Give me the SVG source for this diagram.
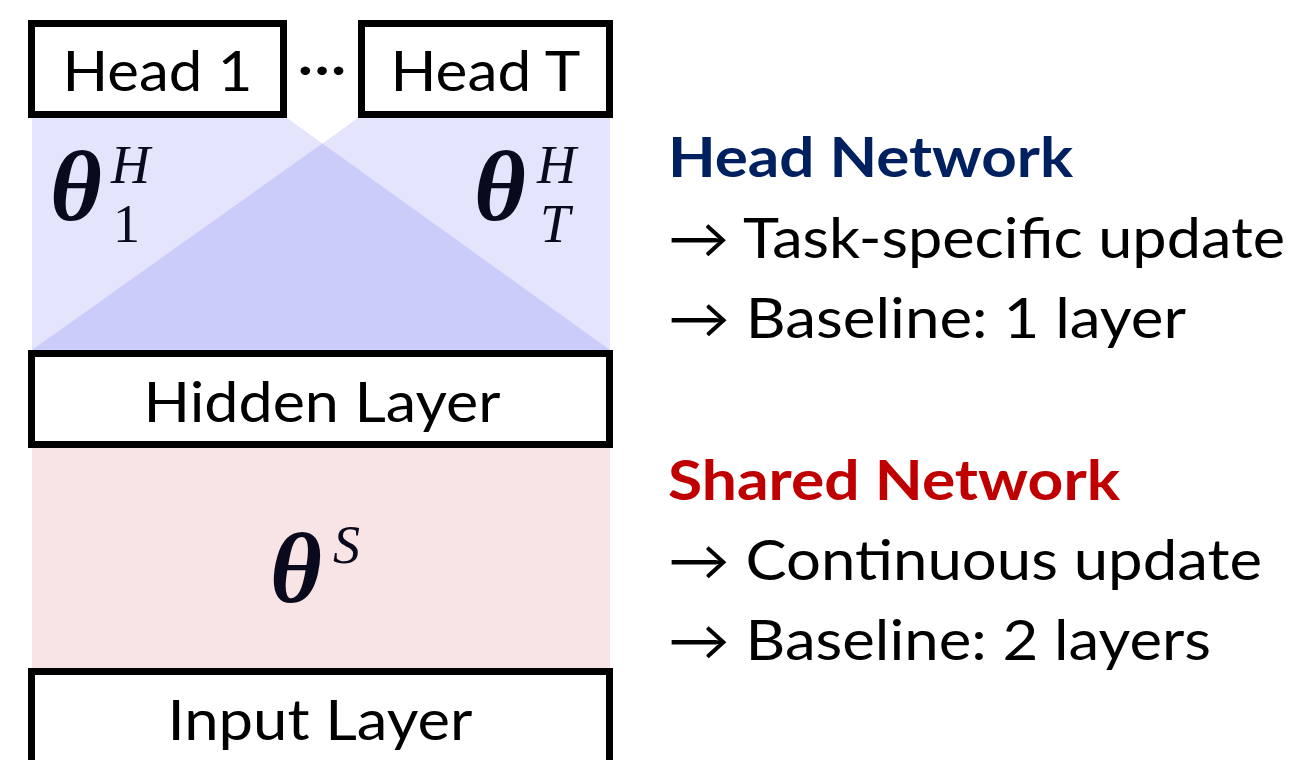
<svg xmlns="http://www.w3.org/2000/svg" width="1299" height="760" viewBox="0 0 1299 760">
<style>
.box{fill:#fff;stroke:#000;stroke-width:7}
.lbl{font-family:Lato,"Noto Sans",sans-serif;font-size:56px;fill:#000;text-anchor:middle}
.txt{font-family:Lato,"Noto Sans",sans-serif;font-size:56px;fill:#000}
.hd{font-family:Lato,"Noto Sans",sans-serif;font-size:56px;font-weight:bold}
.th{font-family:"Liberation Serif","DejaVu Serif",serif;font-weight:bold;font-style:italic;font-size:100px;fill:#0a0a1e}
.sc{font-family:"Liberation Serif","DejaVu Serif",serif;font-style:italic;font-size:54px;fill:#0a0a1e}
.sn{font-family:"Liberation Serif","DejaVu Serif",serif;font-size:54px;fill:#0a0a1e}
</style>
<g id="regions">
<polygon points="32,118 287,118 322.4,143.4 358,118 610,118 610,350 32,350" fill="#e4e4fc"/>
<polygon points="322.4,143.4 610,350 32,350" fill="#ccccfa"/>
<rect x="32" y="447" width="578" height="221" fill="#f8e4e4"/>
</g>
<g id="head1"><rect class="box" x="31.5" y="23.5" width="252" height="91"/><text class="lbl" x="157.5" y="91" textLength="190" lengthAdjust="spacingAndGlyphs">Head 1</text></g>
<g id="dots"><text class="txt" x="297" y="88" textLength="50" lengthAdjust="spacingAndGlyphs">···</text></g>
<g id="headT"><rect class="box" x="361.5" y="23.5" width="248" height="91"/><text class="lbl" x="485.5" y="91" textLength="190" lengthAdjust="spacingAndGlyphs">Head T</text></g>
<g id="hidden"><rect class="box" x="31.5" y="353.5" width="578" height="91"/><text class="lbl" x="322" y="422" textLength="357" lengthAdjust="spacingAndGlyphs">Hidden Layer</text></g>
<g id="input"><rect class="box" x="31.5" y="671.5" width="578" height="120"/><text class="lbl" x="320" y="740" textLength="305" lengthAdjust="spacingAndGlyphs">Input Layer</text></g>
<g id="theta1"><text class="th" x="50" y="220">θ</text><text class="sc" x="111" y="183">H</text><text class="sn" x="113" y="242">1</text></g>
<g id="thetaT"><text class="th" x="474" y="220">θ</text><text class="sc" x="537" y="183">H</text><text class="sc" x="540" y="242">T</text></g>
<g id="thetaS"><text class="th" x="270" y="602">θ</text><text class="sc" x="333" y="563">S</text></g>
<g id="legend">
<text class="hd" x="668" y="177" fill="#002060" textLength="405" lengthAdjust="spacingAndGlyphs">Head Network</text>
<text class="txt" x="668" y="258" textLength="617" lengthAdjust="spacingAndGlyphs">→ Task-specific update</text>
<text class="txt" x="668" y="338" textLength="518" lengthAdjust="spacingAndGlyphs">→ Baseline: 1 layer</text>
<text class="hd" x="668" y="500" fill="#c00000" textLength="452" lengthAdjust="spacingAndGlyphs">Shared Network</text>
<text class="txt" x="668" y="580" textLength="594" lengthAdjust="spacingAndGlyphs">→ Continuous update</text>
<text class="txt" x="668" y="660" textLength="543" lengthAdjust="spacingAndGlyphs">→ Baseline: 2 layers</text>
</g>
<g id="connectors"/>
</svg>
